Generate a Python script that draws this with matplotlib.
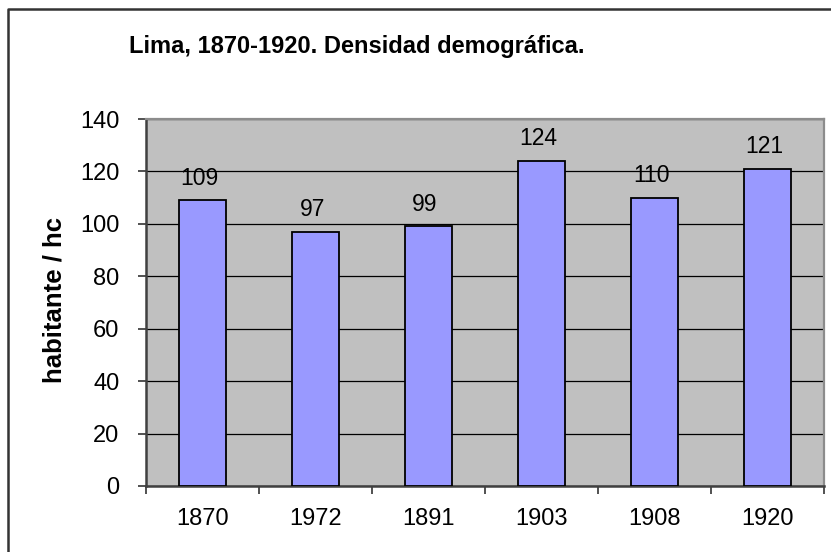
import matplotlib.pyplot as plt
from matplotlib.lines import Line2D

# data
years = ['1870', '1972', '1891', '1903', '1908', '1920']
densidad = [109, 97, 99, 124, 110, 121]
y_ticks = [0, 20, 40, 60, 80, 100, 120, 140]

plt.rcParams['font.family'] = ['Liberation Sans', 'DejaVu Sans']

W, H = 831, 552
fig = plt.figure(figsize=(W / 100, H / 100), dpi=100)

# outer chart border (only left/top visible in the reference)
fig.lines.append(Line2D([8 / W, 8 / W, 1.0], [0.0, 1 - 9 / H, 1 - 9 / H],
                        transform=fig.transFigure, color='#333333', linewidth=1.8))

# plot area
left, right, top, bottom = 146, 824, 119, 486
ax = fig.add_axes([left / W, 1 - bottom / H, (right - left) / W, (bottom - top) / H])
ax.set_facecolor('#C0C0C0')

x = list(range(len(years)))
ax.bar(x, densidad, width=0.42, color='#9999FF', edgecolor='black', linewidth=1.3, zorder=3)

for xi, v in zip(x, densidad):
    ax.text(xi - 0.03, v + 4, str(v), ha='center', va='bottom', fontsize=16.5, zorder=4)

ax.set_xlim(-0.5, len(years) - 0.5)
ax.set_ylim(0, 140)
ax.set_yticks(y_ticks)
ax.set_yticklabels([str(t) for t in y_ticks], fontsize=17)
ax.yaxis.grid(True, color='black', linewidth=0.9, zorder=1)
ax.set_axisbelow(True)

# category labels between boundary ticks
ax.set_xticks([i - 0.5 for i in range(len(years) + 1)])
ax.set_xticklabels([])
ax.set_xticks(x, minor=True)
ax.set_xticklabels(years, minor=True, fontsize=17)
ax.tick_params(axis='x', which='minor', length=0, pad=16)
ax.tick_params(axis='x', which='major', length=6, width=1.2, color='#333333')
ax.tick_params(axis='y', length=6, width=1.2, color='#333333', pad=13)

for s in ['left', 'bottom']:
    ax.spines[s].set_color('#404040')
    ax.spines[s].set_linewidth(1.8)
for s in ['top', 'right']:
    ax.spines[s].set_color('#8C8C8C')
    ax.spines[s].set_linewidth(1.6)

ax.set_ylabel('habitante / hc', fontsize=18.5, fontweight='bold')
ax.yaxis.set_label_coords((66 - left) / (right - left), (bottom - 300) / (bottom - top))

fig.text(357 / W, 1 - 47 / H, 'Lima, 1870-1920. Densidad demográfica.',
         ha='center', va='center', fontsize=17, fontweight='bold')

fig.savefig('out.png', dpi=100)
